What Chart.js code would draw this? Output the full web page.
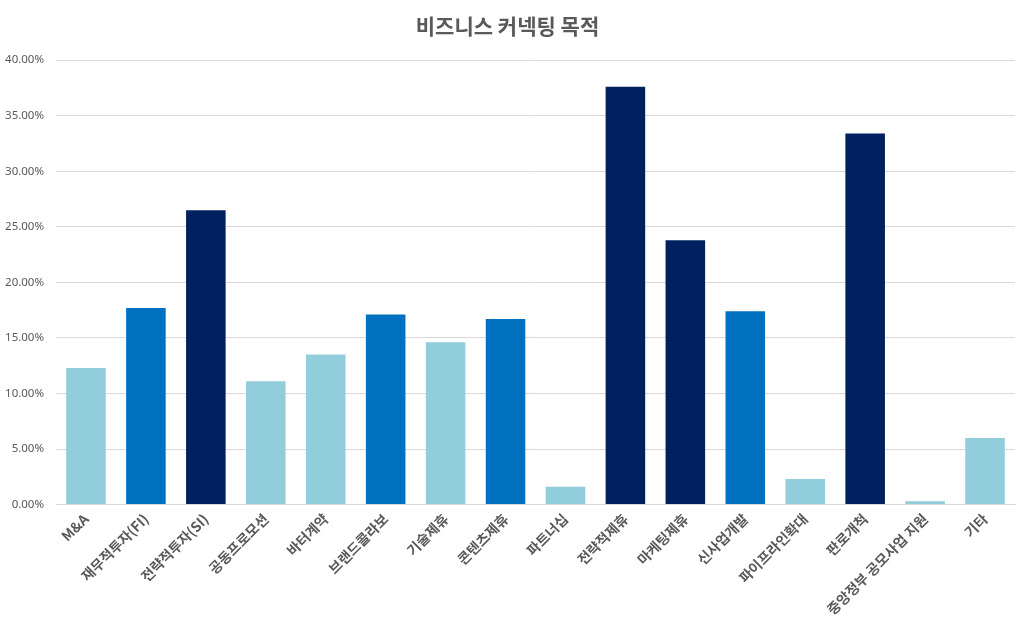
<!DOCTYPE html>
<html>
<head>
<meta charset="utf-8">
<script src="https://cdn.jsdelivr.net/npm/chart.js@4"></script>
<style>
  html, body { margin: 0; padding: 0; background: #fff; }
  #wrap { width: 1024px; height: 632px; }
</style>
</head>
<body>
<div id="wrap"><canvas id="chart1"></canvas></div>
<script>
var categories = ['M&A', '재무적투자(FI)', '전략적투자(SI)', '공동프로모션', '바터계약', '브랜드콜라보', '기술제휴', '콘텐츠제휴', '파트너십', '전략적제휴', '마케팅제휴', '신사업개발', '파이프라인확대', '판로개척', '중앙정부 공모사업 지원', '기타'];
var values = [12.3, 17.7, 26.5, 11.1, 13.5, 17.1, 14.6, 16.7, 1.6, 37.6, 23.8, 17.4, 2.3, 33.4, 0.3, 6.0];
// 0 = 연한 파랑, 1 = 파랑, 2 = 남색
var colorGroup = [0, 1, 2, 0, 0, 1, 0, 1, 0, 2, 2, 1, 0, 2, 0, 0];
var palette = ['#92CDDC', '#0070C0', '#002060'];

window.onload = function() {
  var ctx1 = document.getElementById('chart1').getContext('2d');
  var chart1 = new Chart(ctx1, {
    type: 'bar',
    data: {
      labels: categories,
      datasets: [{
        label: '비즈니스 커넥팅 목적',
        data: values,
        backgroundColor: colorGroup.map(function(g) { return palette[g]; }),
        categoryPercentage: 1.0,
        barPercentage: 0.66
      }]
    },
    options: {
      responsive: true,
      maintainAspectRatio: false,
      animation: false,
      layout: { padding: { left: 0, right: 9, top: 8, bottom: 8 } },
      plugins: {
        legend: { display: false },
        tooltip: { enabled: false },
        title: {
          display: true,
          text: '비즈니스 커넥팅 목적',
          color: '#595959',
          font: { family: "'Noto Sans CJK KR', sans-serif", size: 21, weight: 'bold' },
          padding: { top: 5, bottom: 22 }
        }
      },
      scales: {
        x: {
          grid: { display: false, drawTicks: false },
          border: { color: '#d9d9d9', width: 1 },
          ticks: {
            color: '#595959',
            minRotation: 45,
            maxRotation: 45,
            padding: 6,
            autoSkip: false,
            font: { family: "'Noto Sans CJK KR', sans-serif", size: 14, weight: 'bold' }
          }
        },
        y: {
          min: 0,
          max: 40,
          afterFit: function(scale) { scale.width = 56; },
          grid: { color: '#d9d9d9', drawTicks: false },
          border: { display: false },
          ticks: {
            stepSize: 5,
            padding: 12,
            color: '#595959',
            font: { family: "'Noto Sans', sans-serif", size: 11.5 },
            callback: function(v) { return v.toFixed(2) + '%'; }
          }
        }
      }
    }
  });
};
</script>
</body>
</html>
